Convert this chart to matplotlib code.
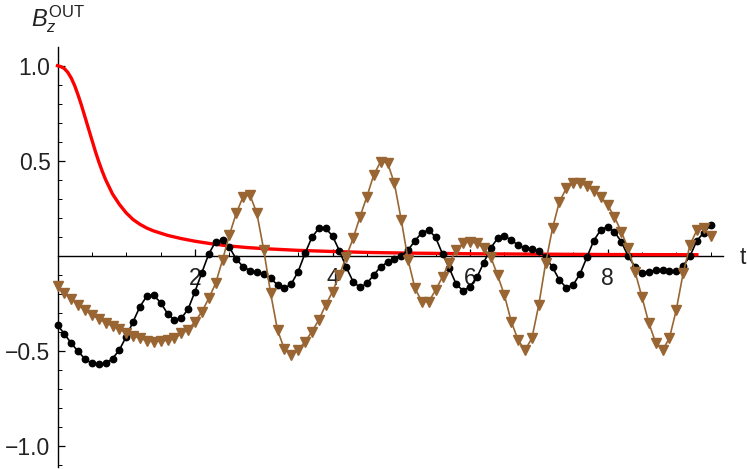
import matplotlib
matplotlib.use('Agg')
import matplotlib.pyplot as plt
from matplotlib.ticker import FixedLocator, MultipleLocator, FuncFormatter

plt.rcParams['font.family'] = ['Liberation Sans', 'DejaVu Sans']
plt.rcParams['mathtext.fontset'] = 'custom'
plt.rcParams['mathtext.rm'] = 'Liberation Sans'
plt.rcParams['mathtext.it'] = 'Liberation Sans:italic'

# ---- data ----
t_red = [0, 0.05, 0.1, 0.15, 0.2, 0.25, 0.3, 0.35, 0.4, 0.45, 0.5, 0.55, 0.6,
         0.65, 0.7, 0.8, 0.9, 1.0, 1.1, 1.2, 1.3, 1.4, 1.6, 1.8, 2.0, 2.25,
         2.5, 2.75, 3.0, 3.5, 4.0, 4.5, 5.0, 6.0, 7.0, 8.0, 9.3]
b_red = [1.0, 0.995, 0.985, 0.965, 0.935, 0.895, 0.845, 0.79, 0.73, 0.67, 0.61,
         0.55, 0.495, 0.445, 0.4, 0.325, 0.27, 0.225, 0.19, 0.165, 0.145, 0.13,
         0.107, 0.09, 0.076, 0.062, 0.051, 0.043, 0.037, 0.028, 0.022, 0.017,
         0.014, 0.01, 0.008, 0.006, 0.005]

t_pts = [i / 10 for i in range(96)]  # 0.0 ... 9.5 step 0.1

b_black = [-0.365, -0.412, -0.461, -0.504, -0.544, -0.567, -0.572, -0.567, -0.542, -0.496,
           -0.426, -0.347, -0.268, -0.212, -0.209, -0.247, -0.305, -0.339, -0.330, -0.281,
           -0.189, -0.089, 0.009, 0.074, 0.082, 0.044, -0.018, -0.058, -0.079, -0.088,
           -0.096, -0.119, -0.154, -0.172, -0.149, -0.084, 0.012, 0.096, 0.144, 0.144,
           0.104, 0.026, -0.061, -0.137, -0.167, -0.146, -0.102, -0.058, -0.035, -0.019,
           -0.001, 0.030, 0.079, 0.121, 0.135, 0.096, 0.009, -0.067, -0.151, -0.184,
           -0.163, -0.114, -0.037, 0.039, 0.091, 0.104, 0.082, 0.056, 0.039, 0.033,
           0.026, -0.009, -0.061, -0.128, -0.168, -0.154, -0.096, -0.009, 0.079, 0.135,
           0.153, 0.126, 0.074, -0.002, -0.058, -0.089, -0.086, -0.075, -0.075, -0.079,
           -0.082, -0.054, -0.002, 0.079, 0.121, 0.161]

b_brown = [-0.160, -0.198, -0.228, -0.260, -0.286, -0.312, -0.333, -0.353, -0.370, -0.388,
           -0.405, -0.423, -0.435, -0.447, -0.453, -0.449, -0.446, -0.435, -0.409, -0.391,
           -0.347, -0.295, -0.225, -0.146, -0.023, 0.109, 0.223, 0.311, 0.319, 0.223,
           0.030, -0.198, -0.391, -0.492, -0.523, -0.497, -0.453, -0.400, -0.339, -0.260,
           -0.190, -0.102, -0.005, 0.091, 0.205, 0.311, 0.425, 0.495, 0.490, 0.381,
           0.188, -0.023, -0.172, -0.242, -0.242, -0.181, -0.111, -0.037, 0.030, 0.065,
           0.074, 0.065, 0.039, -0.005, -0.102, -0.207, -0.347, -0.444, -0.497, -0.435,
           -0.260, -0.040, 0.144, 0.284, 0.354, 0.384, 0.384, 0.367, 0.342, 0.311,
           0.267, 0.205, 0.126, 0.039, -0.084, -0.216, -0.353, -0.458, -0.497, -0.435,
           -0.286, -0.093, 0.056, 0.135, 0.144, 0.104]

x_major = [2, 4, 6, 8]
y_major = [-1.0, -0.5, 0.5, 1.0]

fig = plt.figure(figsize=(7.47, 4.69), dpi=100)
ax = fig.add_axes([57.5 / 747, 2.3 / 469, (723 - 57.5) / 747, (466.7 - 47.3) / 469])

ax.plot(t_red, b_red, color='#ff0000', lw=2.4, zorder=3, clip_on=False)
ax.plot(t_pts, b_black, color='black', lw=1.2, marker='o', ms=4.6,
        zorder=4, clip_on=False)
ax.plot(t_pts, b_brown, color='#996633', lw=1.2, marker='v', ms=7,
        zorder=5, clip_on=False)

ax.set_xlim(0, 9.68)
ax.set_ylim(-1.111, 1.097)

# Mathematica-style axes through the origin
for s in ['top', 'right']:
    ax.spines[s].set_visible(False)
ax.spines['left'].set_position(('data', 0))
ax.spines['bottom'].set_position(('data', 0))
for s in ['left', 'bottom']:
    ax.spines[s].set_linewidth(1.0)
    ax.spines[s].set_color('black')

ax.xaxis.set_major_locator(FixedLocator(x_major))
ax.xaxis.set_minor_locator(MultipleLocator(0.5))
ax.yaxis.set_major_locator(FixedLocator(y_major))
ax.yaxis.set_minor_locator(MultipleLocator(0.1))
ax.xaxis.set_major_formatter(FuncFormatter(lambda v, p: '%d' % v))
ax.yaxis.set_major_formatter(FuncFormatter(
    lambda v, p: ('%.1f' % v).replace('-', '\u2212')))

ax.tick_params(which='major', direction='in', length=5, width=0.9,
               labelsize=16.5, colors='black', labelcolor='#222222')
ax.tick_params(which='minor', direction='in', length=3.2, width=0.7, colors='black')
ax.tick_params(axis='x', which='major', pad=8)
ax.tick_params(axis='y', which='major', pad=5)

fig.text(740 / 747, 1 - 257 / 469, 't', fontsize=16.5, color='#222222',
         ha='left', va='center')
fig.text(31 / 747, 1 - 26 / 469, r'$B_z^{\mathrm{OUT}}$', fontsize=17,
         color='#222222', ha='left', va='baseline')

fig.savefig('out.png', dpi=100)
